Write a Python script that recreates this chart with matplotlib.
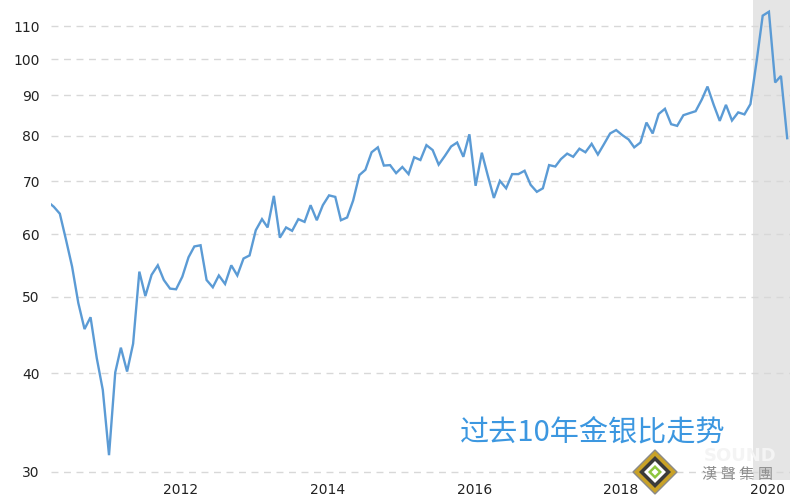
import numpy as np
import pandas as pd
import matplotlib
matplotlib.use("Agg")
import matplotlib.pyplot as plt
import matplotlib.dates as mdates
from matplotlib.patches import Polygon

# ---- data: monthly gold/silver ratio ----
ratio = [66.0, 65.0, 63.7, 59.0, 54.6, 49.1, 45.5, 47.1, 41.8, 38.1,
         31.5, 40.1, 43.1, 40.2, 43.6, 53.8, 50.1, 53.3, 54.8, 52.5,
         51.2, 51.1, 53.0, 56.1, 57.9, 58.1, 52.5, 51.4, 53.2, 51.9,
         54.8, 53.2, 55.9, 56.4, 60.7, 62.7, 61.2, 67.1, 59.4, 61.2,
         60.6, 62.7, 62.2, 65.3, 62.5, 65.3, 67.2, 66.9, 62.5, 63.0,
         66.2, 71.3, 72.4, 76.2, 77.3, 73.3, 73.4, 71.7, 73.0, 71.5,
         75.1, 74.5, 77.8, 76.7, 73.5, 75.4, 77.5, 78.4, 75.2, 80.3,
         69.1, 76.1, 71.3, 66.7, 70.1, 68.6, 71.5, 71.5, 72.2, 69.3,
         67.9, 68.6, 73.4, 73.1, 74.7, 75.9, 75.2, 77.0, 76.2, 78.1,
         75.7, 78.0, 80.5, 81.3, 80.1, 79.1, 77.3, 78.4, 83.1, 80.5,
         85.2, 86.5, 82.7, 82.3, 84.9, 85.4, 85.9, 88.9, 92.3, 87.5,
         83.5, 87.5, 83.6, 85.6, 85.1, 87.7, 99.5, 113.5, 114.8, 93.4,
         95.2, 79.4]
dates = pd.date_range("2010-03-01", periods=len(ratio), freq="MS") + pd.Timedelta(days=7)

y_ticks = [30, 40, 50, 60, 70, 80, 90, 100, 110]
x_tick_years = [2012, 2014, 2016, 2018, 2020]
shade_start = pd.Timestamp("2019-10-22")
x_left = pd.Timestamp("2010-03-25")
x_right = pd.Timestamp("2020-04-22")
title = "过去10年金银比走势"

# ---- figure ----
fig = plt.figure(figsize=(7.98, 5.0), dpi=100)
ax = fig.add_axes([51 / 798, 20 / 500, (790 - 51) / 798, 480 / 500])

ax.axvspan(shade_start, x_right, color="#e5e5e5", lw=0, zorder=0)
ax.plot(dates, ratio, color="#5b9bd5", lw=1.7, zorder=3, solid_joinstyle="miter")

ax.set_yscale("log")
ax.set_ylim(29.3, 118.8)
ax.set_xlim(x_left, x_right)
ax.yaxis.set_major_locator(matplotlib.ticker.FixedLocator(y_ticks))
ax.yaxis.set_minor_locator(matplotlib.ticker.NullLocator())
ax.set_yticklabels([str(v) for v in y_ticks])
ax.set_xticks([pd.Timestamp(f"{y}-01-01") for y in x_tick_years])
ax.xaxis.set_major_formatter(mdates.DateFormatter("%Y"))

ax.grid(axis="y", color="#d8d8d8", lw=1.0, linestyle=(0, (5, 4)))
ax.grid(axis="x", visible=False)
for s in ax.spines.values():
    s.set_visible(False)
ax.tick_params(axis="both", length=0, labelsize=10, colors="#222222")
ax.tick_params(axis="y", pad=8)
ax.tick_params(axis="x", pad=2)

# ---- overlay title ----
fig.text(460 / 798, 1 - 432 / 500, title, fontsize=21, color="#3c97e0",
         family=["Noto Sans CJK SC", "DejaVu Sans"], ha="left", va="center")

# ---- watermark logo (approximation) ----
cx, cy, r = 655 / 798, 1 - 472 / 500, 22
def diamond(rad):
    return [(cx, cy + rad / 500), (cx + rad / 798, cy), (cx, cy - rad / 500), (cx - rad / 798, cy)]
fig.patches.append(Polygon(diamond(r), closed=True, transform=fig.transFigure,
                           facecolor="#c9a227", edgecolor="#8a8a8a", lw=1, zorder=5))
fig.patches.append(Polygon(diamond(16), closed=True, transform=fig.transFigure,
                           facecolor="#3a3a3a", edgecolor="none", zorder=6))
fig.patches.append(Polygon(diamond(11), closed=True, transform=fig.transFigure,
                           facecolor="#ffffff", edgecolor="none", zorder=7))
fig.patches.append(Polygon(diamond(7), closed=True, transform=fig.transFigure,
                           facecolor="#8dc63f", edgecolor="none", zorder=8))
fig.patches.append(Polygon(diamond(3.5), closed=True, transform=fig.transFigure,
                           facecolor="#ffffff", edgecolor="none", zorder=9))
fig.text(740 / 798, 1 - 456 / 500, "SOUND", fontsize=13, color="#f4f4f4",
         fontweight="bold", ha="center", va="center", zorder=6)
fig.text(738 / 798, 1 - 474 / 500, "漢 聲 集 團", fontsize=11, color="#8c8c8c",
         family=["Noto Sans CJK TC", "DejaVu Sans"], ha="center", va="center", zorder=6)

fig.savefig("out.png", dpi=100)
